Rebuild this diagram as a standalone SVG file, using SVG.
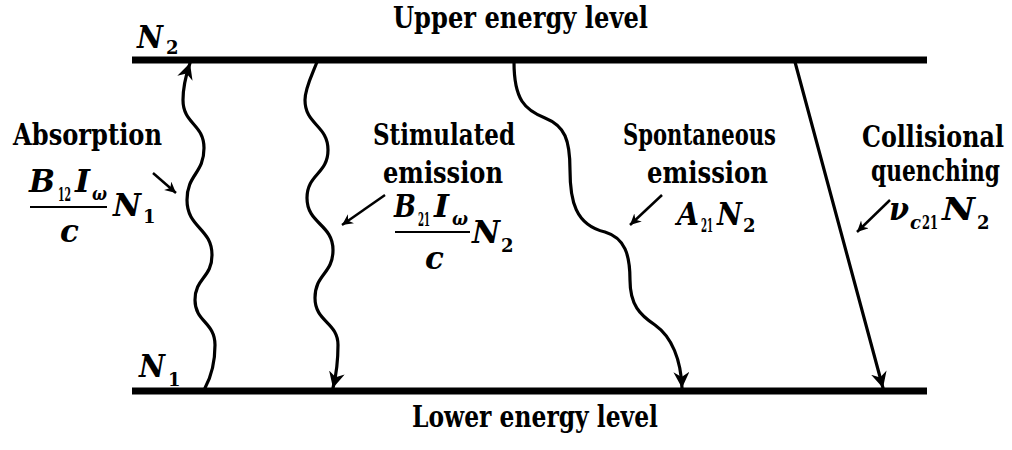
<svg xmlns="http://www.w3.org/2000/svg" width="1012" height="450" viewBox="0 0 1012 450">
<style>
.lbl{font-size:29px;font-weight:bold}
.m{font-size:31px;font-weight:bold;font-style:italic}
.ms{font-size:18px;font-weight:bold}
.msi{font-size:18px;font-weight:bold;font-style:italic}
.level{stroke:#000;stroke-width:7;fill:none}
.tr{stroke:#000;stroke-width:3.2;fill:none;stroke-linecap:round}
.ptr{stroke:#000;stroke-width:2.5;fill:none}
.bar{stroke:#000;stroke-width:2}
</style>
<defs>
<marker id="big" markerUnits="userSpaceOnUse" markerWidth="20" markerHeight="20" refX="16" refY="8" orient="auto">
<path d="M0,0 L16,8 L0,16 L5,8 Z" fill="#000"/>
</marker>
<marker id="small" markerUnits="userSpaceOnUse" markerWidth="14" markerHeight="14" refX="11" refY="5.5" orient="auto">
<path d="M0,0 L11,5.5 L0,11 L3.5,5.5 Z" fill="#000"/>
</marker>
</defs>
<rect width="1012" height="450" fill="#fff"/>

<g font-family="DejaVu Serif, Liberation Serif, serif" fill="#000">
<g id="upper-level">
<line class="level" x1="132" y1="60" x2="927" y2="60"/>
<text class="lbl" x="393" y="28" textLength="255" lengthAdjust="spacingAndGlyphs">Upper energy level</text>
<text class="m" x="137" y="48" textLength="26" lengthAdjust="spacingAndGlyphs">N</text><text class="ms" x="166" y="54">2</text>
</g>

<g id="lower-level">
<line class="level" x1="132" y1="391" x2="927" y2="391"/>
<text class="lbl" x="412" y="427" textLength="246" lengthAdjust="spacingAndGlyphs">Lower energy level</text>
<text class="m" x="139" y="377" textLength="26" lengthAdjust="spacingAndGlyphs">N</text><text class="ms" x="168" y="386">1</text>
</g>

<g id="absorption">
<text class="lbl" x="13" y="145" textLength="149" lengthAdjust="spacingAndGlyphs">Absorption</text>
<text class="m" x="29" y="192" textLength="26" lengthAdjust="spacingAndGlyphs">B</text><text class="ms" x="58" y="201" textLength="13" lengthAdjust="spacingAndGlyphs">12</text>
<text class="m" x="75" y="192" textLength="15" lengthAdjust="spacingAndGlyphs">I</text><text class="msi" x="92" y="200" textLength="15" lengthAdjust="spacingAndGlyphs">ω</text>
<line class="bar" x1="30" y1="207" x2="107" y2="207"/>
<text class="m" x="60" y="242">c</text>
<text class="m" x="113" y="216" textLength="28" lengthAdjust="spacingAndGlyphs">N</text><text class="ms" x="143" y="223">1</text>
</g>

<g id="stimulated-emission">
<text class="lbl" x="373" y="145" textLength="142" lengthAdjust="spacingAndGlyphs">Stimulated</text>
<text class="lbl" x="383" y="183" textLength="120" lengthAdjust="spacingAndGlyphs">emission</text>
<text class="m" x="394" y="217" textLength="22" lengthAdjust="spacingAndGlyphs">B</text><text class="ms" x="418" y="226" textLength="12" lengthAdjust="spacingAndGlyphs">21</text>
<text class="m" x="434" y="217" textLength="15" lengthAdjust="spacingAndGlyphs">I</text><text class="msi" x="452" y="225" textLength="16" lengthAdjust="spacingAndGlyphs">ω</text>
<line class="bar" x1="395" y1="232" x2="470" y2="232"/>
<text class="m" x="425" y="269">c</text>
<text class="m" x="472" y="243" textLength="28" lengthAdjust="spacingAndGlyphs">N</text><text class="ms" x="501" y="252">2</text>
</g>

<g id="spontaneous-emission">
<text class="lbl" x="623" y="145" textLength="153" lengthAdjust="spacingAndGlyphs">Spontaneous</text>
<text class="lbl" x="647" y="183" textLength="121" lengthAdjust="spacingAndGlyphs">emission</text>
<text class="m" x="677" y="225" textLength="22" lengthAdjust="spacingAndGlyphs">A</text><text class="ms" x="701" y="232" textLength="12" lengthAdjust="spacingAndGlyphs">21</text>
<text class="m" x="717" y="225" textLength="25" lengthAdjust="spacingAndGlyphs">N</text><text class="ms" x="743" y="232">2</text>
</g>

<g id="collisional-quenching">
<text class="lbl" x="862" y="147" textLength="142" lengthAdjust="spacingAndGlyphs">Collisional</text>
<text class="lbl" x="871" y="181" textLength="129" lengthAdjust="spacingAndGlyphs">quenching</text>
<text class="m" x="889" y="220" textLength="20" lengthAdjust="spacingAndGlyphs">ν</text><text class="msi" x="910" y="229" textLength="11" lengthAdjust="spacingAndGlyphs">c</text><text class="ms" x="922" y="229" textLength="16" lengthAdjust="spacingAndGlyphs">21</text>
<text class="m" x="942" y="220" textLength="33" lengthAdjust="spacingAndGlyphs">N</text><text class="ms" x="977" y="229">2</text>
</g>
</g>

<g id="connectors">
<path class="tr" marker-end="url(#big)" d="M205,388 C212,375 215,360 215,345 C215,322 195,322 195,300 C195,278 212,278 212,255 C212,228 187,228 187,200 C187,174 204,174 204,148 C204,124 183,124 183,100 C183,85 187,72 190,63"/>
<path class="tr" marker-end="url(#big)" d="M317,62 C312,75 305,88 305,100 C305,125 328,125 328,150 C328,174 307,174 307,198 C307,224 333,224 333,250 C333,274 315,274 315,298 C315,322 338,322 338,345 C338,362 336,376 333,388"/>
<path class="tr" marker-end="url(#big)" d="M514,62 C514,100 525,110 545,118 C565,126 570,140 570,170 C570,200 575,225 605,232 C625,238 630,255 630,280 C630,305 640,315 655,325 C672,337 681,360 682,388"/>
<line class="tr" marker-end="url(#big)" x1="795" y1="62" x2="883" y2="388"/>
<line class="ptr" marker-end="url(#small)" x1="153" y1="173" x2="176" y2="193"/>
<line class="ptr" marker-end="url(#small)" x1="385" y1="195" x2="342" y2="225"/>
<line class="ptr" marker-end="url(#small)" x1="662" y1="195" x2="630" y2="225"/>
<line class="ptr" marker-end="url(#small)" x1="890" y1="200" x2="857" y2="232"/>
</g>
</svg>
